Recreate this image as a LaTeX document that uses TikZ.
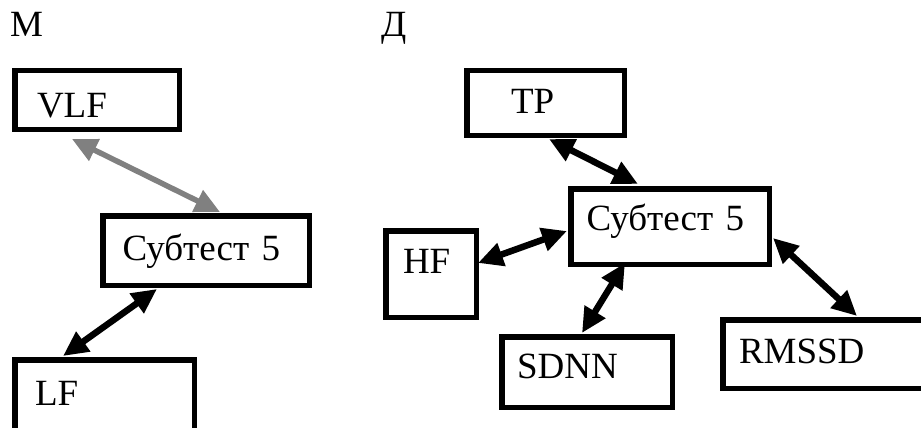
\documentclass[tikz,border=0pt]{standalone}
\usepackage{fontspec}
\setmainfont{Liberation Serif}
\usetikzlibrary{arrows.meta}

\definecolor{linkgray}{RGB}{128,128,128}

\tikzset{
  box/.style={draw=black, line width=5.5pt, fill=white, anchor=north west,
    align=left, inner ysep=0pt, text depth=0pt,
    font=\fontsize{37}{40}\selectfont},
  link/.style={line width=6.5pt, draw=black,
    {Triangle[length=25pt,width=23pt]}-{Triangle[length=25pt,width=23pt]}},
  graylink/.style={link, line width=5.5pt, draw=linkgray, color=linkgray},
  title/.style={anchor=base west, inner sep=0pt, font=\fontsize{37}{40}\selectfont}
}

\begin{document}
\begin{tikzpicture}[x=1pt,y=-1pt]
  \useasboundingbox (0,0) rectangle (921,428);
  \clip (0,0) rectangle (921,428);
  \fill[white] (0,0) rectangle (921,428);

  % group headings
  \node[title] (hm) at (10,37) {М};
  \node[title] (hd) at (381,37) {Д};

  % left group
  \node[box, text width=120pt, inner xsep=22.25pt, minimum height=58.5pt, text height=34pt] (vlf) at (12,68) {VLF};
  \node[box, text width=167pt, inner xsep=19.75pt, minimum height=69.5pt, text height=19pt] (subl) at (100,213) {Субтест 5};
  \node[box, text width=139pt, inner xsep=20.25pt, minimum height=87.5pt, text height=3pt] (lf) at (12,357) {LF};

  % right group
  \node[box, text width=69pt, inner xsep=44.25pt, minimum height=64.5pt, text height=20pt] (tp) at (464,68) {TP};
  \node[box, text width=167pt, inner xsep=15.75pt, minimum height=75.5pt, text height=7pt] (subr) at (568,186) {Субтест 5};
  \node[box, text width=56pt, inner xsep=17.25pt, minimum height=86.5pt, text height=0pt, text depth=2pt] (hf) at (383,228) {HF};
  \node[box, text width=140pt, inner xsep=15.25pt, minimum height=70.5pt, text height=12pt] (sdnn) at (499,334) {SDNN};
  \node[box, text width=187pt, inner xsep=16.25pt, minimum height=68.5pt, text height=18pt] (rmssd) at (720,317) {RMSSD};

  % connectors, left group
  \draw[graylink] ([shift={(60,7)}]vlf.south west) -- ([shift={(120,-1)}]subl.north west);
  \draw[link] ([shift={(57,1)}]subl.south west) -- ([shift={(51,-1)}]lf.north west);

  % connectors, right group
  \draw[link] ([shift={(85,1)}]tp.south west) -- ([shift={(70,-2)}]subr.north west);
  \draw[link] ([shift={(-1,35)}]hf.north east) -- ([shift={(-1,45)}]subr.north west);
  \draw[link] ([shift={(57,-4)}]subr.south west) -- ([shift={(83,-1)}]sdnn.north west);
  \draw[link] ([shift={(1,52)}]subr.north east) -- ([shift={(137,-1)}]rmssd.north west);
\end{tikzpicture}
\end{document}
